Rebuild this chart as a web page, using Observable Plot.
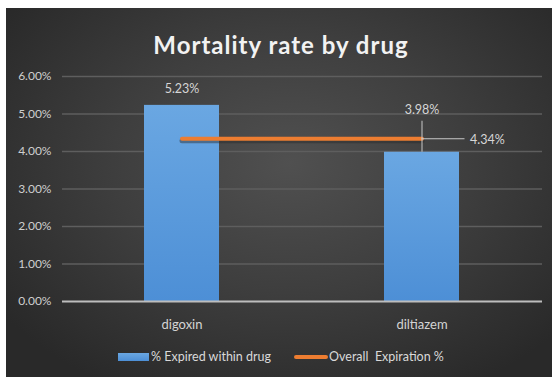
<!DOCTYPE html>
<html><head><meta charset="utf-8">
<script src="https://cdn.jsdelivr.net/npm/d3@7"></script>
<script src="https://cdn.jsdelivr.net/npm/@observablehq/plot@0.6"></script>
<style>
body{margin:0;background:#fff;font-family:Lato,"Open Sans",sans-serif;}
#wrap{position:absolute;left:6px;top:8px;width:546px;height:369px;overflow:hidden;
 background:radial-gradient(ellipse 65% 70% at 52% 42%, #505050 0%, #3e3e3e 50%, #292929 100%);}
#title{position:absolute;left:0;width:100%;top:22px;text-align:center;color:#f2f2f2;font-weight:bold;font-size:24px;line-height:29px;letter-spacing:1px;padding-left:4px;box-sizing:border-box;}
#chart{position:absolute;left:0;top:52px;}
#chart svg{background:transparent;overflow:visible;}
#chart svg [aria-label^="x-axis"] text{font-size:13px;fill:#d4d4d4;}
#chart svg [aria-label^="y-axis"] text{font-size:12px;fill:#cfcfcf;}
#legend{position:absolute;top:341px;left:0;width:100%;display:flex;justify-content:center;align-items:center;color:#d9d9d9;font-size:12.5px;line-height:16px;padding-left:4px;box-sizing:border-box;}
.sw{display:inline-block;}
</style>
</head><body>
<div id="wrap">
 <div id="title"></div>
 <div id="chart"></div>
 <div id="legend"></div>
</div>
<script>
const title = "Mortality rate by drug";
const drugs = ["digoxin", "diltiazem"];
const expiredWithinDrug = [0.0523, 0.0398];
const overallExpiration = 0.0434;
const yTicks = [0, 0.01, 0.02, 0.03, 0.04, 0.05, 0.06];
const seriesNames = ["% Expired within drug", "Overall  Expiration %"];
const barColor = "#5b9bd5";
const lineColor = "#ed7d31";

document.getElementById("title").textContent = title;

const bars = drugs.map((d, i) => ({drug: d, value: expiredWithinDrug[i]}));
const overall = drugs.map(d => ({drug: d, value: overallExpiration}));
const fmt = d3.format(".2%");

const gradDefs = () => {
  const g = d3.create("svg:defs");
  const lg = g.append("linearGradient").attr("id", "barGrad").attr("x1", 0).attr("x2", 0).attr("y1", 0).attr("y2", 1);
  lg.append("stop").attr("offset", "0%").attr("stop-color", "#6aa7e2");
  lg.append("stop").attr("offset", "100%").attr("stop-color", "#4d8fd6");
  return g.node();
};

const bw = 0.313; // bar share of band step
const chart = Plot.plot({
  width: 546,
  height: 280,
  marginLeft: 56,
  marginRight: 10,
  marginTop: 16,
  marginBottom: 39,
  style: {background: "transparent", color: "#d4d4d4", fontFamily: "Lato, 'Open Sans', sans-serif", overflow: "visible"},
  x: {domain: drugs, type: "band", paddingInner: 1 - bw, paddingOuter: (1 - bw) / 2, label: null, tickSize: 0, tickPadding: 18},
  y: {domain: [0, 0.06], ticks: yTicks, tickFormat: fmt, label: null, tickSize: 0, tickPadding: 11},
  marks: [
    gradDefs,
    Plot.ruleY(yTicks.filter(t => t > 0), {stroke: "#5e5e5e", strokeWidth: 1.3}),
    Plot.barY(bars, {x: "drug", y: "value", fill: "url(#barGrad)"}),
    Plot.ruleY([0], {stroke: "#bdbdbd", strokeWidth: 1.8}),
    Plot.line(overall, {x: "drug", y: "value", stroke: "#2a2a2a", strokeOpacity: 0.45, strokeWidth: 5, dy: 2, strokeLinecap: "round"}),
    Plot.line(overall, {x: "drug", y: "value", stroke: lineColor, strokeWidth: 4, strokeLinecap: "round"}),
    // leader lines (diltiazem)
    Plot.ruleX([bars[1]], {x: "drug", y1: "value", y2: "value", insetTop: -31, stroke: "#c8c8c8", strokeWidth: 1}),
    Plot.tickY([overall[1]], {x: "drug", y: "value", insetLeft: 37.5, insetRight: -5.5, stroke: "#c8c8c8", strokeWidth: 1}),
    // data labels
    Plot.text([bars[0]], {x: "drug", y: "value", text: d => fmt(d.value), dy: -16, fill: "#d6d6d6", fontSize: 12.5}),
    Plot.text([bars[1]], {x: "drug", y: "value", text: d => fmt(d.value), dy: -42, fill: "#d6d6d6", fontSize: 12.5}),
    Plot.text([overall[1]], {x: "drug", y: "value", text: d => fmt(d.value), dx: 48, dy: 1, textAnchor: "start", fill: "#d6d6d6", fontSize: 12.5})
  ]
});
document.getElementById("chart").appendChild(chart);

const legend = document.getElementById("legend");
legend.innerHTML =
  `<span class="sw" style="width:31px;height:8px;background:linear-gradient(#6aa7e2,#4d8fd6);margin-right:2px"></span><span>${seriesNames[0]}</span>` +
  `<span class="sw" style="width:34px;height:4px;border-radius:2px;background:${lineColor};margin-left:23px;margin-right:1px"></span><span style="white-space:pre">${seriesNames[1]}</span>`;
</script>
</body></html>
